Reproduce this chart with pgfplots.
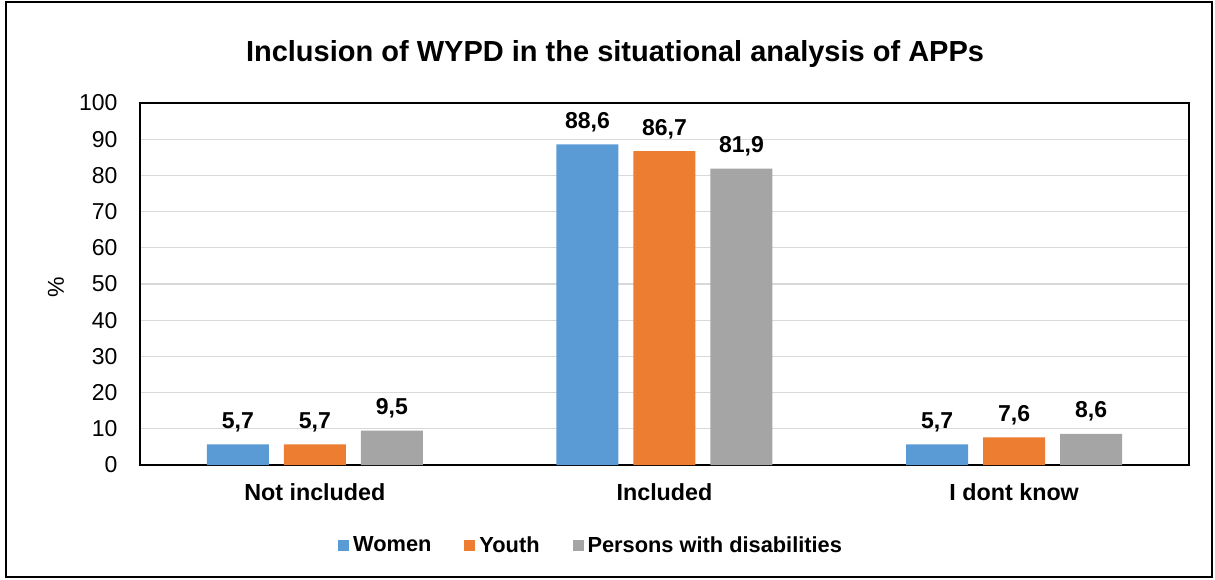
\documentclass[border=0pt]{standalone}
\usepackage{fontspec}
\setmainfont{Liberation Sans}
\usepackage{pgfplots}
\pgfplotsset{compat=1.18}
\definecolor{cW}{HTML}{5B9BD5}
\definecolor{cY}{HTML}{ED7D31}
\definecolor{cP}{HTML}{A5A5A5}
\definecolor{cG}{HTML}{D9D9D9}
\begin{document}
\begin{tikzpicture}[x=1pt,y=1pt]
\useasboundingbox (0,0) rectangle (1215,579);
\draw[black,line width=1.3pt] (6,2) rectangle (1212,577);
\node[font=\fontsize{29}{34}\selectfont\bfseries] at (615,525) {Inclusion of WYPD in the situational analysis of APPs};
\begin{axis}[
  at={(140pt,114pt)}, anchor=south west,
  scale only axis, width=1049pt, height=362pt,
  ybar, bar width=62pt,
  xmin=-0.5, xmax=2.5, ymin=0, ymax=100,
  ytick={0,10,...,100},
  xtick={0,1,2},
  xticklabels={Not included,Included,I dont know},
  x tick label style={font=\fontsize{23.3}{27}\selectfont\bfseries, yshift=-15pt},
  y tick label style={font=\fontsize{23}{27}\selectfont, xshift=-19pt},
  /pgf/number format/assume math mode=true,
  major tick length=0pt,
  ymajorgrids, grid style={cG, line width=1.2pt},
  axis line style={black, line width=1.5pt},
  ylabel={\%},
  ylabel style={at={(axis description cs:-0.080,0.49)}, anchor=center, font=\fontsize{23}{27}\selectfont},
  nodes near coords,
  nodes near coords style={font=\fontsize{23}{27}\selectfont\bfseries, anchor=south, yshift=9pt,
    /pgf/number format/.cd, fixed, fixed zerofill, precision=1, use comma, assume math mode=true},
  legend style={at={(0.430,-0.221)}, anchor=center, draw=none, legend columns=-1,
    font=\fontsize{21.8}{26}\selectfont\bfseries,
    /tikz/every even column/.append style={column sep=31pt},
    /tikz/every odd column/.append style={column sep=2pt}},
  legend image code/.code={\fill[#1,draw=none] (0pt,-5.5pt) rectangle (11pt,5.5pt);},
  legend cell align=left,
]
\addplot[fill=cW, draw=none, bar shift=-77pt] coordinates {(0,5.7) (1,88.6) (2,5.7)};
\addplot[fill=cY, draw=none, bar shift=0pt] coordinates {(0,5.7) (1,86.7) (2,7.6)};
\addplot[fill=cP, draw=none, bar shift=77pt] coordinates {(0,9.5) (1,81.9) (2,8.6)};
\legend{Women,Youth,Persons with disabilities}
\end{axis}
\end{tikzpicture}
\end{document}
